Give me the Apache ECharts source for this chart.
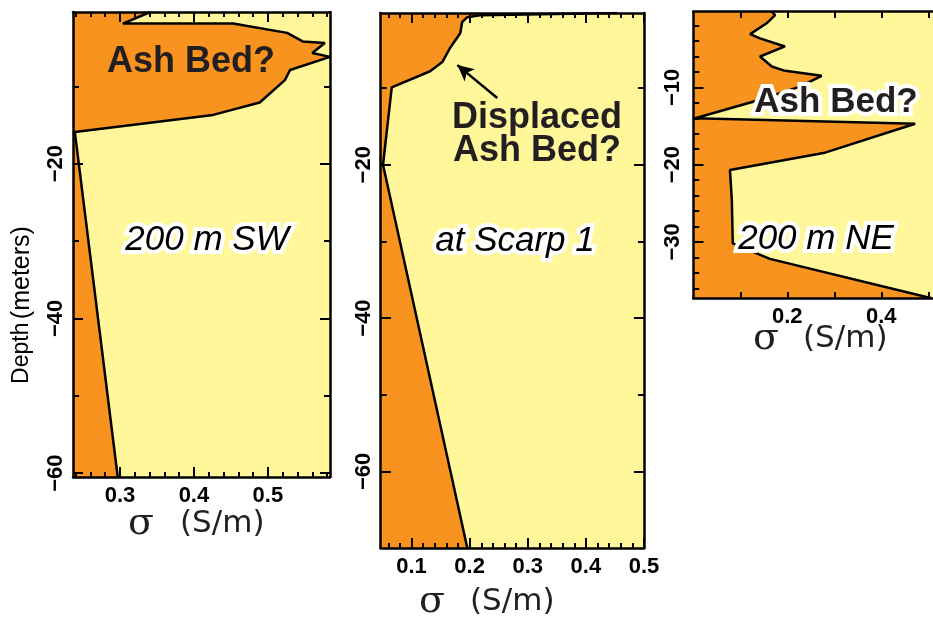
<!DOCTYPE html>
<html><head><meta charset="utf-8">
<script src="https://cdn.jsdelivr.net/npm/echarts@6/dist/echarts.min.js"></script>
<style>
html,body{margin:0;padding:0;background:#fff}
#wrap{position:relative;width:933px;height:618px;overflow:hidden}
.ch{position:absolute;top:0}
</style>
</head><body><div id="wrap">
<div class="ch" id="p1" style="left:0;width:345px;height:618px"></div>
<div class="ch" id="p2" style="left:340px;width:330px;height:618px"></div>
<div class="ch" id="p3" style="left:650px;width:283px;height:618px"></div>
<div class="ch" id="lab" style="left:0;top:200px;width:45px;height:220px"></div>
</div>
<script>
// ---- data ----
const SW_SIGMA = [0.341, 0.304, 0.453, 0.526, 0.547, 0.577, 0.560, 0.584, 0.530, 0.523, 0.489, 0.426, 0.239, 0.297];
const SW_DEPTH = [-0.4, -1.9, -1.9, -3.1, -4.2, -4.4, -5.7, -6.2, -7.9, -9.2, -12.1, -13.7, -15.9, -60.5];

const SCARP_SIGMA = [0.454, 0.218, 0.196, 0.187, 0.184, 0.166, 0.153, 0.132, 0.066, 0.051, 0.196];
const SCARP_DEPTH = [-0.2, -0.5, -0.75, -1.4, -2.8, -4.8, -6.6, -7.8, -9.9, -20.0, -70.0];

const NE_SIGMA = [0.167, 0.174, 0.156, 0.121, 0.142, 0.195, 0.142, 0.167, 0.192, 0.273, 0.227, 0.142, 0.004, 0.472, 0.277, 0.078, 0.082, 0.084, 0.163, 0.507];
const NE_DEPTH = [-0.2, -0.63, -1.7, -3.1, -3.65, -4.7, -6.0, -7.3, -7.8, -8.5, -9.9, -11.6, -14.0, -14.7, -18.5, -20.7, -24.6, -30.2, -32.2, -37.3];

const SW_X_LABELS = [0.3, 0.4, 0.5];
const SW_Y_LABELS = [-20, -40, -60];
const SCARP_X_LABELS = [0.1, 0.2, 0.3, 0.4, 0.5];
const SCARP_Y_LABELS = [-20, -40, -60];
const NE_X_LABELS = [0.2, 0.4];
const NE_Y_LABELS = [-10, -20, -30];

const ARROW_FROM = [0.2475, -11.3];
const ARROW_TO = [0.179, -7.0];

// ---- styling ----
const ORANGE = '#F7931E';
const YELLOW = '#FFF79A';
const INK = '#231F20';

function steps(a, b, s) { const r = []; for (let v = a; v <= b + 1e-9; v += s) r.push(+v.toFixed(4)); return r; }
const fmt = v => (v < 0 ? '\u2212' : '') + String(+Math.abs(v).toFixed(3));

const panels = [
  { el: 'p1', rect: {left: 73, top: 12, width: 257, height: 465}, x: [0.2365, 0.584], y: [-60.5, -0.4],
    xMajor: [0.3, 0.4, 0.5], xMinor: steps(0.24, 0.58, 0.02), xLabels: SW_X_LABELS, xMajorLen: 10,
    yMajor: [-20, -40, -60], yMinor: [-10, -30, -50], yLabels: SW_Y_LABELS, yMargin: 6,
    sigma: SW_SIGMA, depth: SW_DEPTH, showRight: true,
    texts: [
      {x: 191, y: 62, t: 'Ash Bed?', f: 'bold 36px "Liberation Sans"', halo: false, fill: INK},
      {x: 207, y: 240, t: '200 m SW', f: 'italic 35px "Liberation Sans"', halo: true, fill: '#000'}
    ], sigmaAt: {sx: 141, lx: 180, y: 524} },
  { el: 'p2', rect: {left: 40.7, top: 13, width: 263.3, height: 535}, x: [0.047, 0.5], y: [-70, -0.2],
    xMajor: [0.1, 0.2, 0.3, 0.4, 0.5], xMinor: steps(0.06, 0.5, 0.02), xLabels: SCARP_X_LABELS, xMajorLen: 10,
    yMajor: [-20, -40, -60], yMinor: [-10, -30, -50], yLabels: SCARP_Y_LABELS, yMargin: 6,
    sigma: SCARP_SIGMA, depth: SCARP_DEPTH, showRight: true, arrow: true,
    texts: [
      {x: 197, y: 118, t: 'Displaced', f: 'bold 36px "Liberation Sans"', halo: false, fill: INK},
      {x: 197, y: 151, t: 'Ash Bed?', f: 'bold 36px "Liberation Sans"', halo: false, fill: INK},
      {x: 175, y: 241, t: 'at Scarp 1', f: 'italic 35px "Liberation Sans"', halo: true, fill: '#000'}
    ], sigmaAt: {sx: 92, lx: 130, y: 602} },
  { el: 'p3', rect: {left: 43.3, top: 11.7, width: 239.7, height: 286.6}, x: [0, 0.51], y: [-37.3, -0.2],
    xMajor: [0.1, 0.2, 0.3, 0.4, 0.5], xMinor: [], xLabels: NE_X_LABELS, xMajorLen: 6,
    yMajor: [-10, -20, -30], yMinor: steps(-36, -2, 2), yLabels: NE_Y_LABELS, yMargin: 9,
    sigma: NE_SIGMA, depth: NE_DEPTH, showRight: false,
    texts: [
      {x: 186, y: 102, t: 'Ash Bed?', f: 'bold 35px "Liberation Sans"', halo: true, fill: INK},
      {x: 166, y: 239, t: '200 m NE', f: 'italic 35px "Liberation Sans"', halo: true, fill: '#000'}
    ], sigmaAt: {sx: 116, lx: 153, y: 339} }
];

function axis(dim, pos, range, major, len, showLine, labels, margin) {
  return {
    type: 'value', gridIndex: 0, position: pos, min: range[0], max: range[1], z: 5,
    splitLine: {show: false}, axisPointer: {show: false},
    axisLine: {show: showLine, onZero: false, lineStyle: {color: '#000', width: 2.5}},
    axisTick: major.length ? {show: true, inside: true, length: len, customValues: major, lineStyle: {color: '#000', width: 2}} : {show: false},
    axisLabel: labels ? {show: true, customValues: labels, formatter: fmt, margin: margin, rotate: dim === 'y' ? 90 : 0,
      color: '#000', fontSize: 22, fontWeight: 'bold', fontFamily: 'Liberation Sans'} : {show: false}
  };
}

// tick marks as short mark lines placed in data space along each frame side
function tickLines(p) {
  const ky = p.rect.height / (p.y[1] - p.y[0]);
  const kx = p.rect.width / (p.x[1] - p.x[0]);
  const out = [];
  const xs = [[p.xMajor, p.xMajorLen], [p.xMinor, 5]];
  xs.forEach(([vals, len]) => vals.forEach(v => {
    out.push([{coord: [v, p.y[0]]}, {coord: [v, p.y[0] + len / ky]}]);
    out.push([{coord: [v, p.y[1]]}, {coord: [v, p.y[1] - len / ky]}]);
  }));
  const ys = [[p.yMajor, 10], [p.yMinor, 6]];
  ys.forEach(([vals, len]) => vals.forEach(v => {
    out.push([{coord: [p.x[0], v]}, {coord: [p.x[0] + len / kx, v]}]);
    if (p.showRight) out.push([{coord: [p.x[1], v]}, {coord: [p.x[1] - len / kx, v]}]);
  }));
  return out;
}

panels.forEach(p => {
  const data = p.sigma.map((s, i) => [s, p.depth[i]]);
  const xmin = p.x[0];
  const series = [
    {type: 'custom', data: data, clip: true, z: 2, renderItem: function (params, api) {
      if (params.dataIndex !== 0) return null;
      const pts = [api.coord([xmin, p.depth[0]])];
      for (let i = 0; i < p.sigma.length; i++) pts.push(api.coord([p.sigma[i], p.depth[i]]));
      pts.push(api.coord([xmin, p.depth[p.depth.length - 1]]));
      return {type: 'polygon', shape: {points: pts}, style: {fill: ORANGE}};
    }},
    {type: 'line', data: data, showSymbol: false, z: 3, lineStyle: {color: '#000', width: 2.5}},
    {type: 'line', data: data, showSymbol: false, z: 6, lineStyle: {opacity: 0, width: 0},
      markLine: {silent: true, symbol: ['none', 'none'], animation: false, label: {show: false},
        emphasis: {disabled: true},
        lineStyle: {color: '#000', width: 2, type: 'solid'}, data: tickLines(p)}}
  ];

  const graphic = p.texts.map(t => ({type: 'text', x: t.x, y: t.y, z: 100,
    style: Object.assign({text: t.t, font: t.f, fill: t.fill, align: 'center', verticalAlign: 'middle'},
      t.halo ? {stroke: '#fff', lineWidth: 8} : {})}));
  graphic.push({type: 'text', x: p.sigmaAt.sx, y: p.sigmaAt.y, z: 100,
    style: {text: 'σ', font: '38px "DejaVu Serif"', fill: INK, align: 'center', verticalAlign: 'middle'}});
  graphic.push({type: 'text', x: p.sigmaAt.lx, y: p.sigmaAt.y, z: 100,
    style: {text: '(S/m)', font: '31px "DejaVu Sans"', fill: INK, align: 'left', verticalAlign: 'middle'}});

  const opt = {
    animation: false,
    grid: [Object.assign({show: true, backgroundColor: YELLOW, borderWidth: 0}, p.rect)],
    xAxis: [axis('x', 'bottom', p.x, p.xMajor, p.xMajorLen, true, p.xLabels, 8),
            axis('x', 'top', p.x, p.xMajor, p.xMajorLen, true, null, 8)],
    yAxis: [axis('y', 'left', p.y, p.yMajor, 10, true, p.yLabels, p.yMargin),
            axis('y', 'right', p.y, p.showRight ? p.yMajor : [], 10, p.showRight, null, 8)],
    series: series,
    graphic: graphic
  };
  if (p.arrow) {
    opt.series[1].markLine = {
      silent: true, symbol: ['none', 'arrow'], symbolSize: [12, 16], animation: false,
      label: {show: false}, lineStyle: {color: '#000', width: 2.5, type: 'solid'},
      data: [[{coord: ARROW_FROM}, {coord: ARROW_TO}]]
    };
  }
  echarts.init(document.getElementById(p.el)).setOption(opt);
});

// y-axis title
echarts.init(document.getElementById('lab')).setOption({
  animation: false,
  graphic: [{type: 'text', x: 22, y: 105, rotation: Math.PI / 2,
    style: {text: '{a|Depth} {b|(meters)}', align: 'center', verticalAlign: 'middle',
      rich: {a: {fontFamily: 'Liberation Sans', fontSize: 23, fill: '#000'}, b: {fontFamily: 'Liberation Sans', fontSize: 25, fill: '#000'}}}}]
});
</script></body></html>
